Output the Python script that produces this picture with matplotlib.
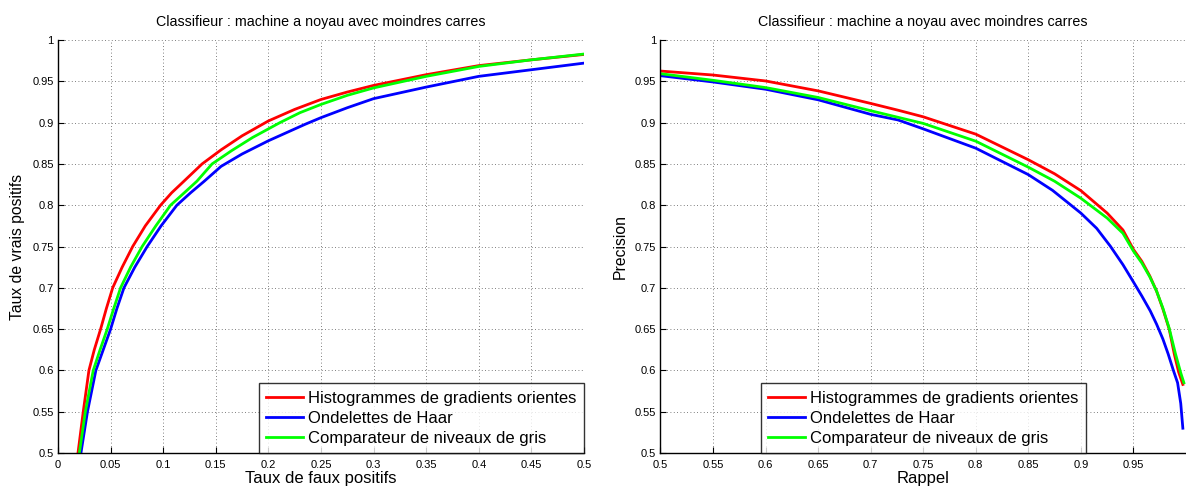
import matplotlib
matplotlib.use("Agg")
import matplotlib.pyplot as plt

plt.rcParams['font.family'] = ['Liberation Sans', 'DejaVu Sans']

title = "Classifieur : machine a noyau avec moindres carres"
labels = ["Histogrammes de gradients orientes", "Ondelettes de Haar",
          "Comparateur de niveaux de gris"]
colors = ["#ff0000", "#0000ff", "#00ff00"]

# ROC curves (taux de faux positifs, taux de vrais positifs)
roc_hog_x = [0.019, 0.024, 0.0294, 0.0345, 0.0405, 0.046, 0.052, 0.061, 0.071, 0.083,
             0.0975, 0.108, 0.118, 0.137, 0.155, 0.175, 0.2, 0.225, 0.25, 0.275,
             0.3, 0.35, 0.4, 0.45, 0.5]
roc_hog_y = [0.5, 0.55, 0.6, 0.625, 0.65, 0.675, 0.7, 0.725, 0.75, 0.775,
             0.8, 0.815, 0.827, 0.85, 0.867, 0.884, 0.902, 0.916, 0.928, 0.937,
             0.945, 0.958, 0.969, 0.976, 0.9825]
roc_haar_x = [0.0218, 0.028, 0.036, 0.043, 0.05, 0.056, 0.0627, 0.073, 0.0848, 0.098,
              0.113, 0.126, 0.139, 0.155, 0.175, 0.2, 0.235, 0.25, 0.275, 0.3,
              0.35, 0.4, 0.45, 0.5]
roc_haar_y = [0.5, 0.55, 0.6, 0.625, 0.65, 0.675, 0.7, 0.725, 0.75, 0.775,
              0.8, 0.815, 0.829, 0.847, 0.862, 0.878, 0.898, 0.906, 0.918, 0.929,
              0.943, 0.956, 0.964, 0.972]
roc_gris_x = [0.0203, 0.026, 0.0335, 0.04, 0.0468, 0.053, 0.0595, 0.069, 0.08, 0.093,
              0.107, 0.12, 0.132, 0.1465, 0.165, 0.185, 0.211, 0.23, 0.25, 0.275,
              0.3, 0.35, 0.4, 0.45, 0.5]
roc_gris_y = [0.5, 0.55, 0.6, 0.625, 0.65, 0.675, 0.7, 0.725, 0.75, 0.775,
              0.8, 0.815, 0.829, 0.85, 0.866, 0.882, 0.9, 0.912, 0.922, 0.933,
              0.942, 0.956, 0.968, 0.976, 0.983]

# Precision / rappel curves
pr_hog_x = [0.5, 0.55, 0.6, 0.65, 0.7, 0.726, 0.75, 0.8, 0.85, 0.875, 0.9, 0.925,
            0.94, 0.95, 0.958, 0.9655, 0.972, 0.978, 0.984, 0.989, 0.993, 0.997]
pr_hog_y = [0.9624, 0.9576, 0.9504, 0.9384, 0.9232, 0.915, 0.907, 0.886, 0.855, 0.838,
            0.8176, 0.7904, 0.77, 0.7464, 0.732, 0.7144, 0.696, 0.6744, 0.65, 0.619,
            0.598, 0.583]
pr_haar_x = [0.5, 0.55, 0.6, 0.65, 0.7, 0.726, 0.75, 0.8, 0.85, 0.873, 0.9, 0.915,
             0.928, 0.94, 0.95, 0.958, 0.966, 0.972, 0.978, 0.983, 0.988, 0.992,
             0.995, 0.997]
pr_haar_y = [0.9568, 0.9492, 0.9404, 0.9276, 0.910, 0.9032, 0.8924, 0.869, 0.837, 0.818,
             0.7904, 0.772, 0.7504, 0.728, 0.707, 0.69, 0.672, 0.656, 0.638, 0.62,
             0.6, 0.585, 0.56, 0.53]
pr_gris_x = [0.5, 0.55, 0.6, 0.65, 0.7, 0.726, 0.75, 0.8, 0.85, 0.875, 0.9, 0.925,
             0.94, 0.95, 0.958, 0.9655, 0.972, 0.978, 0.984, 0.99, 0.995, 0.998]
pr_gris_y = [0.9592, 0.9512, 0.9424, 0.9304, 0.9144, 0.9064, 0.899, 0.8775, 0.846, 0.829,
             0.8084, 0.7844, 0.766, 0.7444, 0.73, 0.7134, 0.696, 0.6754, 0.651, 0.62,
             0.597, 0.585]

roc_xticks = [0, 0.05, 0.1, 0.15, 0.2, 0.25, 0.3, 0.35, 0.4, 0.45, 0.5]
pr_xticks = [0.5, 0.55, 0.6, 0.65, 0.7, 0.75, 0.8, 0.85, 0.9, 0.95]
yticks = [0.5, 0.55, 0.6, 0.65, 0.7, 0.75, 0.8, 0.85, 0.9, 0.95, 1]


def fmt(v):
    return "%g" % v


fig = plt.figure(figsize=(11.86, 4.86), dpi=100)
ax1 = fig.add_axes([58 / 1186, 33 / 486, 526 / 1186, 413 / 486])
ax2 = fig.add_axes([660.5 / 1186, 33 / 486, 525.5 / 1186, 413 / 486])


def style(ax, xticks, xlim):
    ax.set_xlim(*xlim)
    ax.set_ylim(0.5, 1)
    ax.set_xticks(xticks)
    ax.set_xticklabels([fmt(v) for v in xticks])
    ax.set_yticks(yticks)
    ax.set_yticklabels([fmt(v) for v in yticks])
    ax.tick_params(direction='in', length=4, width=0.8, labelsize=8, pad=3,
                   top=False, right=False)
    ax.tick_params(axis='x', pad=5)
    for s in ['top', 'right']:
        ax.spines[s].set_visible(False)
    for s in ['left', 'bottom']:
        ax.spines[s].set_linewidth(1.0)
    ax.grid(True, linestyle=(0, (1, 3)), color='#555555', linewidth=0.6)
    ax.set_axisbelow(True)
    ax.set_title(title, fontsize=10.3, pad=10)


ax1.plot(roc_hog_x, roc_hog_y, color=colors[0], lw=2, label=labels[0])
ax1.plot(roc_haar_x, roc_haar_y, color=colors[1], lw=2, label=labels[1])
ax1.plot(roc_gris_x, roc_gris_y, color=colors[2], lw=2, label=labels[2])
style(ax1, roc_xticks, (0, 0.5))
ax1.set_xlabel("Taux de faux positifs", fontsize=12, labelpad=1)
ax1.set_ylabel("Taux de vrais positifs", fontsize=11.3, labelpad=5)

ax2.plot(pr_hog_x, pr_hog_y, color=colors[0], lw=2, label=labels[0])
ax2.plot(pr_haar_x, pr_haar_y, color=colors[1], lw=2, label=labels[1])
ax2.plot(pr_gris_x, pr_gris_y, color=colors[2], lw=2, label=labels[2])
style(ax2, pr_xticks, (0.5, 1.0))
ax2.set_xlabel("Rappel", fontsize=12, labelpad=1)
ax2.set_ylabel("Precision", fontsize=11.3, labelpad=5)

for ax, loc in [(ax1, 'lower right'), (ax2, 'lower center')]:
    leg = ax.legend(loc=loc, fontsize=12, frameon=True, fancybox=False,
                    borderaxespad=0, handlelength=2.2, handletextpad=0.3,
                    labelspacing=0.3, borderpad=0.45)
    leg.get_frame().set_edgecolor('black')
    leg.get_frame().set_linewidth(1.0)

fig.savefig("out.png", dpi=100)
